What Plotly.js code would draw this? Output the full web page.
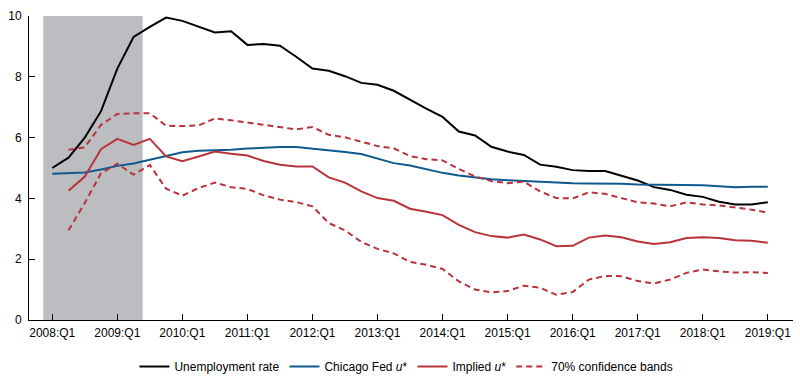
<!DOCTYPE html>
<html>
<head>
<meta charset="utf-8">
<script src="https://cdn.plot.ly/plotly-3.0.1.min.js"></script>
<style>html,body{margin:0;padding:0;background:#fff;}#chart{width:800px;height:391px;}</style>
</head>
<body>
<div id="chart"></div>
<script>
// Quarter index 0 = 2008:Q1 ... 44 = 2019:Q1
const quarterIndex = Array.from({length: 45}, (_, i) => i);
const tickPositions = [0, 4, 8, 12, 16, 20, 24, 28, 32, 36, 40, 44];
const tickLabels = ["2008:Q1","2009:Q1","2010:Q1","2011:Q1","2012:Q1","2013:Q1","2014:Q1","2015:Q1","2016:Q1","2017:Q1","2018:Q1","2019:Q1"];

const unemploymentRate = [5.0,5.34,6.0,6.87,8.27,9.31,9.64,9.95,9.84,9.64,9.46,9.5,
  9.05,9.08,9.02,8.66,8.27,8.2,8.02,7.8,7.74,7.54,7.24,6.95,6.68,6.2,6.07,5.7,
  5.54,5.43,5.11,5.04,4.93,4.9,4.9,4.75,4.59,4.37,4.28,4.12,4.05,3.89,3.8,3.8,3.87];

const chicagoFedUstar = [4.81,4.83,4.85,4.95,5.07,5.15,5.27,5.38,5.52,5.57,5.58,5.6,
  5.64,5.67,5.69,5.69,5.64,5.6,5.53,5.46,5.32,5.16,5.08,4.96,4.84,4.75,4.69,4.63,
  4.6,4.57,4.54,4.51,4.5,4.49,4.49,4.48,4.46,4.45,4.46,4.43,4.43,4.4,4.37,4.38,4.38];

const impliedUstar = [null,4.25,4.72,5.62,5.96,5.76,5.96,5.38,5.22,5.38,5.54,5.47,
  5.41,5.23,5.11,5.05,5.05,4.69,4.52,4.23,4.01,3.92,3.66,3.56,3.45,3.13,2.89,2.76,
  2.71,2.81,2.65,2.43,2.44,2.71,2.78,2.72,2.58,2.5,2.56,2.7,2.72,2.7,2.62,2.61,2.54];

const upperBand = [null,5.6,5.68,6.42,6.78,6.8,6.8,6.39,6.38,6.4,6.63,6.57,
  6.49,6.43,6.34,6.27,6.35,6.09,6.01,5.86,5.72,5.65,5.39,5.29,5.25,4.97,4.72,4.57,
  4.5,4.55,4.23,4.01,4.0,4.2,4.15,4.01,3.87,3.83,3.74,3.87,3.8,3.77,3.7,3.63,3.53];

const lowerBand = [null,2.95,3.85,4.83,5.14,4.78,5.1,4.32,4.09,4.34,4.52,4.37,
  4.31,4.1,3.96,3.88,3.74,3.19,2.95,2.57,2.34,2.19,1.91,1.82,1.68,1.27,1.0,0.91,
  0.95,1.13,1.06,0.83,0.92,1.33,1.45,1.44,1.28,1.2,1.33,1.55,1.66,1.6,1.56,1.57,1.55];

const recession = {start: -0.55, end: 5.56};

const RED = "#b8333b", BLUE = "#0e5a8e", BLACK = "#000000";

const traces = [
  {x: quarterIndex, y: unemploymentRate, type: "scatter", mode: "lines", name: "Unemployment rate",
   line: {color: BLACK, width: 2}},
  {x: quarterIndex, y: chicagoFedUstar, type: "scatter", mode: "lines", name: "Chicago Fed <i>u</i>*",
   line: {color: BLUE, width: 2}},
  {x: quarterIndex, y: impliedUstar, type: "scatter", mode: "lines", name: "Implied <i>u</i>*",
   line: {color: RED, width: 2}},
  {x: quarterIndex, y: upperBand, type: "scatter", mode: "lines", name: "70% confidence bands",
   line: {color: RED, width: 2, dash: "6px,4px"}},
  {x: quarterIndex, y: lowerBand, type: "scatter", mode: "lines", name: "70% confidence bands",
   showlegend: false, line: {color: RED, width: 2, dash: "6px,4px"}}
];

const layout = {
  width: 800, height: 391,
  margin: {l: 29, r: 7, t: 16, b: 71},
  paper_bgcolor: "#ffffff", plot_bgcolor: "#ffffff",
  font: {family: "Liberation Sans, Arial, sans-serif", size: 12, color: "#000"},
  showlegend: true,
  legend: {orientation: "h", x: 0.494, xanchor: "center", y: -0.153, yanchor: "middle",
           font: {size: 12}, itemwidth: 30, traceorder: "normal"},
  xaxis: {range: [-1.43, 45.55], tickmode: "array", tickvals: tickPositions, ticktext: tickLabels,
          ticks: "inside", ticklen: 6, tickcolor: "#000", tickwidth: 1,
          showline: true, linecolor: "#000", linewidth: 1, showgrid: false, zeroline: false,
          ticklabelstandoff: 2},
  yaxis: {range: [0, 10], tickvals: [0,2,4,6,8,10], ticks: "inside", ticklen: 6,
          tickcolor: "#000", tickwidth: 1, showline: true, linecolor: "#000", linewidth: 1,
          showgrid: false, zeroline: false, ticklabelstandoff: 4},
  shapes: [{type: "rect", xref: "x", yref: "y", x0: recession.start, x1: recession.end, y0: 0, y1: 10,
            fillcolor: "#bcbdc0", line: {width: 0}, layer: "below"}]
};

Plotly.newPlot("chart", traces, layout, {displayModeBar: false, staticPlot: true});
</script>
</body>
</html>
